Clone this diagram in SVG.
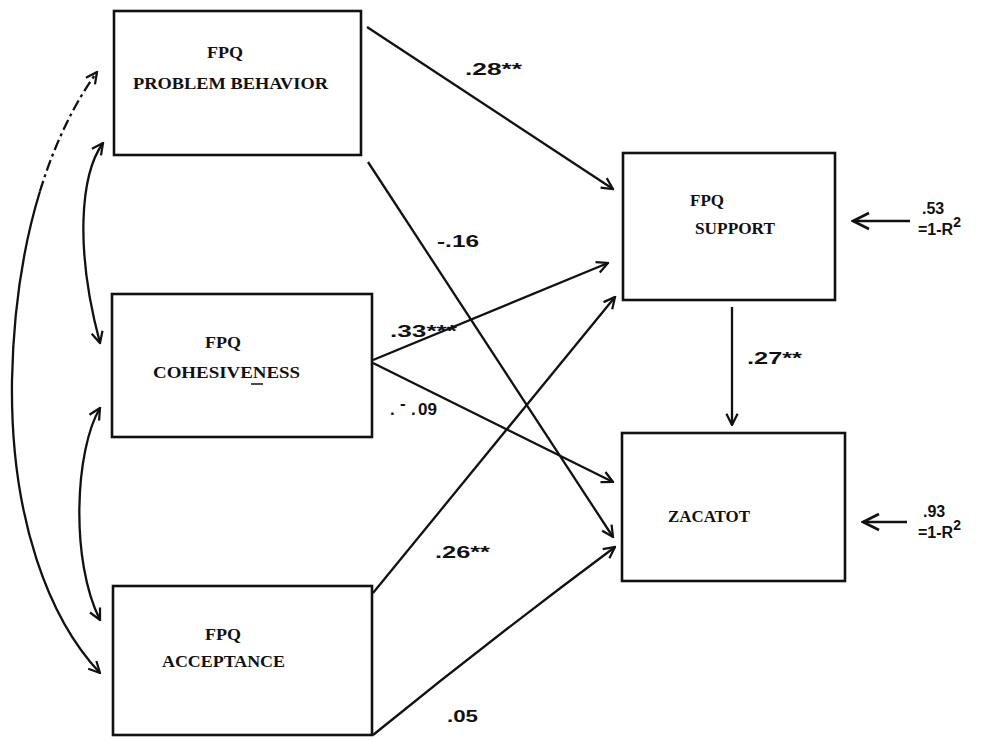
<svg xmlns="http://www.w3.org/2000/svg" width="985" height="740" viewBox="0 0 985 740">
<style>
.box{fill:none;stroke:#111;stroke-width:2.6}
.ln{fill:none;stroke:#111;stroke-width:2.3;marker-end:url(#ah)}
.res{fill:none;stroke:#111;stroke-width:2.3;marker-end:url(#ahb)}
.cv{fill:none;stroke:#111;stroke-width:2.3}
.nt{font-family:"Liberation Serif",serif;font-weight:bold;font-size:17px;fill:#111}
.lb{font-family:"Liberation Sans",sans-serif;font-weight:bold;font-size:17px;fill:#111}
.rs{font-family:"Liberation Sans",sans-serif;font-weight:bold;font-size:16px;fill:#111}
</style>
<defs>
<marker id="ah" viewBox="0 0 10 10" refX="9" refY="5" markerWidth="14" markerHeight="14" markerUnits="userSpaceOnUse" orient="auto-start-reverse">
<path d="M1,1 L9,5 L1,9" fill="none" stroke="#111" stroke-width="1.6"/>
</marker>
<marker id="ahb" viewBox="0 0 10 10" refX="9" refY="5" markerWidth="20" markerHeight="20" markerUnits="userSpaceOnUse" orient="auto">
<path d="M1,1 L9,5 L1,9" fill="none" stroke="#111" stroke-width="1.3"/>
</marker>
</defs>
<rect width="985" height="740" fill="#fff"/>
<g id="connectors">
<path class="ln" d="M367,27 L613,189"/>
<path class="ln" d="M368,162 L613,537"/>
<path class="ln" d="M373,360 L608,263"/>
<path class="ln" d="M373,363 L613,482"/>
<path class="ln" d="M373,593 L615,297"/>
<path class="ln" d="M373,735 Q490,640 615,547"/>
<path class="ln" d="M732,307 L732,425"/>
<path class="res" d="M910,221 L853,221"/>
<path class="res" d="M907,522 L863,522"/>
<path class="cv" d="M39.9,191.5 C55.5,140.5 76,101 97,72" stroke-dasharray="11 4 3 4" stroke-width="1.8" marker-end="url(#ah)"/>
<path class="cv" d="M39.9,191.5 C24.25,242.5 13.5,305 12,380 C10,520 50,620 100,673" marker-end="url(#ah)"/>
<path class="cv" d="M103,143 C80,175 75,250 100,343" marker-start="url(#ah)" marker-end="url(#ah)"/>
<path class="cv" d="M100,408 C75,450 70,560 100,620" marker-start="url(#ah)" marker-end="url(#ah)"/>
<text class="lb" x="465" y="75" textLength="57" lengthAdjust="spacingAndGlyphs">.28**</text>
<text class="lb" x="437" y="247" textLength="42" lengthAdjust="spacingAndGlyphs">-.16</text>
<text class="lb" x="390" y="337" textLength="67" lengthAdjust="spacingAndGlyphs">.33***</text>
<text class="lb" y="415"><tspan x="390">.</tspan><tspan x="400" dy="-6">-</tspan><tspan x="411" dy="6">.</tspan><tspan x="418">09</tspan></text>
<text class="lb" x="435" y="558" textLength="55" lengthAdjust="spacingAndGlyphs">.26**</text>
<text class="lb" x="447" y="722" textLength="31" lengthAdjust="spacingAndGlyphs">.05</text>
<text class="lb" x="747" y="364" textLength="55" lengthAdjust="spacingAndGlyphs">.27**</text>
<text class="rs" x="922" y="214">.53</text>
<text class="rs" x="918" y="235">=1-R<tspan dy="-8" font-size="14">2</tspan></text>
<text class="rs" x="923" y="517">.93</text>
<text class="rs" x="918" y="538">=1-R<tspan dy="-8" font-size="14">2</tspan></text>
</g>
<g id="problem-behavior">
<rect class="box" x="114" y="11" width="247" height="144"/>
<text class="nt" x="207" y="58" textLength="36" lengthAdjust="spacingAndGlyphs">FPQ</text>
<text class="nt" x="133" y="89" textLength="195" lengthAdjust="spacingAndGlyphs">PROBLEM BEHAVIOR</text>
</g>
<g id="cohesiveness">
<rect class="box" x="112" y="294" width="260" height="143"/>
<text class="nt" x="205" y="348" textLength="36" lengthAdjust="spacingAndGlyphs">FPQ</text>
<text class="nt" x="153" y="378" textLength="147" lengthAdjust="spacingAndGlyphs">COHESIVENESS</text>
<line x1="251" y1="384" x2="263" y2="384" stroke="#111" stroke-width="1.5"/>
</g>
<g id="acceptance">
<rect class="box" x="113" y="586" width="259" height="149"/>
<text class="nt" x="205" y="640" textLength="36" lengthAdjust="spacingAndGlyphs">FPQ</text>
<text class="nt" x="162" y="667" textLength="123" lengthAdjust="spacingAndGlyphs">ACCEPTANCE</text>
</g>
<g id="support">
<rect class="box" x="623" y="153" width="212" height="147"/>
<text class="nt" x="690" y="206" textLength="34" lengthAdjust="spacingAndGlyphs">FPQ</text>
<text class="nt" x="695" y="234" textLength="80" lengthAdjust="spacingAndGlyphs">SUPPORT</text>
</g>
<g id="zacatot">
<rect class="box" x="622" y="433" width="223" height="148"/>
<text class="nt" x="668" y="522" textLength="82" lengthAdjust="spacingAndGlyphs">ZACATOT</text>
</g>
</svg>
